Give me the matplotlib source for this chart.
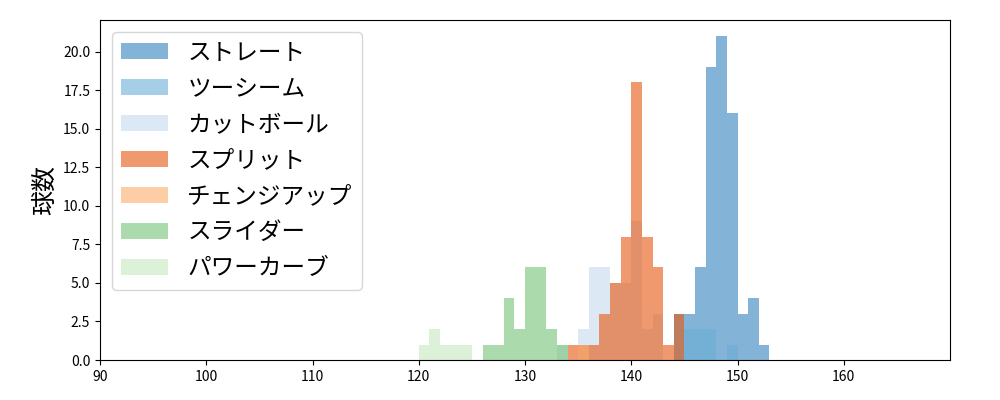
import matplotlib
matplotlib.use("Agg")
import matplotlib.pyplot as plt
import numpy as np

plt.rcParams['font.family'] = ['Noto Sans CJK JP', 'DejaVu Sans']

# left bin edges (km/h) and counts per pitch type, bin width 1
pitch_names = ['ストレート', 'ツーシーム', 'カットボール', 'スプリット',
               'チェンジアップ', 'スライダー', 'パワーカーブ']
pitch_colors = ['#3182bd', '#6baed6', '#c6dbef', '#e6550d',
                '#fdae6b', '#74c476', '#c7e9c0']

straight_x = [144, 145, 146, 147, 148, 149, 150, 151, 152]
straight_n = [3, 3, 6, 19, 21, 16, 3, 4, 1]

twoseam_x = [145, 146, 147, 149]
twoseam_n = [2, 2, 2, 1]

cut_x = [133, 135, 136, 137, 138, 139, 140, 141, 142]
cut_n = [1, 2, 6, 6, 5, 5, 9, 2, 3]

split_x = [134, 135, 136, 137, 138, 139, 140, 141, 142, 143, 144]
split_n = [1, 1, 1, 3, 5, 8, 18, 8, 6, 1, 3]

change_x = [135]
change_n = [1]

slider_x = [126, 127, 128, 129, 130, 131, 132, 133]
slider_n = [1, 1, 4, 2, 6, 6, 2, 1]

pcurve_x = [120, 121, 122, 123, 124]
pcurve_n = [1, 2, 1, 1, 1]

series = [(straight_x, straight_n), (twoseam_x, twoseam_n), (cut_x, cut_n),
          (split_x, split_n), (change_x, change_n), (slider_x, slider_n),
          (pcurve_x, pcurve_n)]

fig, ax = plt.subplots(figsize=(10, 4), dpi=100)
fig.subplots_adjust(left=0.1, right=0.95, bottom=0.1, top=0.95)

for (xs, ns), name, col in zip(series, pitch_names, pitch_colors):
    ax.bar(xs, ns, width=1, align='edge', color=col, alpha=0.6, label=name)

ax.set_xlim(90, 170)
ax.set_xticks(np.arange(90, 170, 10))
ax.set_ylabel('球数', fontsize=18)
ax.legend(loc='upper left', fontsize=17, labelspacing=0.55)

fig.savefig('out.png')
